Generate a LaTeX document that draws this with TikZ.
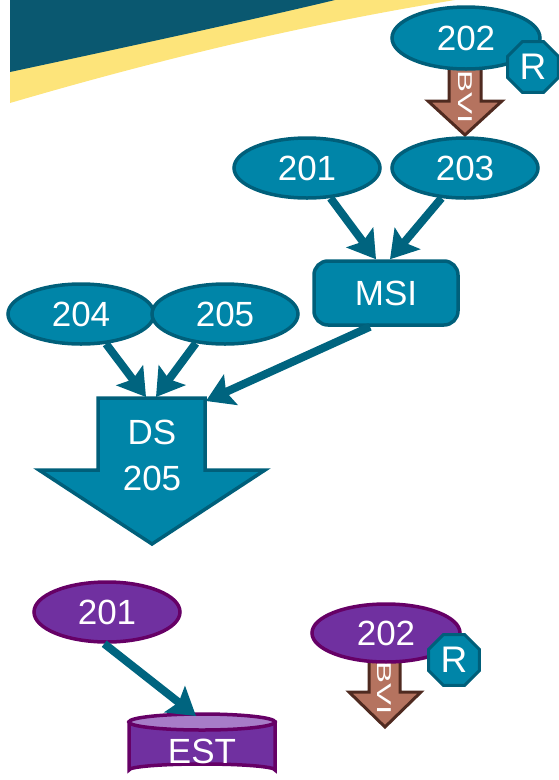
\documentclass[tikz,border=0pt]{standalone}
\usepackage{fontspec}
\setmainfont{Liberation Sans}
\usetikzlibrary{shapes.geometric,arrows.meta,calc}
\definecolor{tealfill}{HTML}{0085A8}
\definecolor{tealline}{HTML}{005F7A}
\definecolor{tealarrow}{HTML}{00647F}
\definecolor{purfill}{HTML}{7030A0}
\definecolor{purline}{HTML}{660066}
\definecolor{purtop}{HTML}{A77CC8}
\definecolor{brownfill}{HTML}{B5735F}
\definecolor{brownline}{HTML}{4F2A20}
\definecolor{bandteal}{HTML}{0A5870}
\definecolor{bandyellow}{HTML}{FDE47A}
\begin{document}
\begin{tikzpicture}[x=1pt,y=-1pt,
  ell/.style={ellipse, draw=tealline, fill=tealfill, line width=3.5pt,
    minimum width=146pt, minimum height=60pt, inner sep=0pt,
    text=white, font=\fontsize{35}{36}\selectfont},
  pell/.style={ell, draw=purline, fill=purfill},
  oct/.style={regular polygon, regular polygon sides=8, draw=tealline,
    fill=tealfill, line width=3pt, minimum size=55pt, inner sep=0pt,
    text=white, font=\fontsize{37}{38}\selectfont},
  boxnode/.style={rectangle, rounded corners=14pt, draw=tealline, fill=tealfill,
    line width=3.5pt, minimum width=144pt, minimum height=64pt,
    text=white, font=\fontsize{35}{36}\selectfont},
  conn/.style={draw=tealarrow, line width=8pt,
    -{Stealth[length=27pt,width=33pt,inset=5pt]}},
  bvi/.style={draw=brownline, fill=brownfill, line width=3pt, line join=miter},
  bvitext/.style={text=white, rotate=-90, inner sep=0pt,
    font=\fontsize{20}{20}\selectfont},
  bigarrow/.style={draw=tealline, fill=tealfill, line width=3.5pt, line join=miter}
]
\useasboundingbox (0,0) rectangle (558,780);
% background band
\fill[bandyellow] (10,0) -- (455,0) .. controls (300,25) and (150,62) .. (10,103) -- cycle;
\fill[bandteal] (10,0) -- (335,0) .. controls (260,18) and (150,42) .. (10,72) -- cycle;

% top BVI arrow
\path[bvi] (449,60) -- (481,60) -- (481,101) -- (502,101) -- (465,135) -- (428,101) -- (449,101) -- cycle;
\node[ell, minimum width=148pt, minimum height=62pt] (n202) at (466,38) {202};
\node[bvitext] (bvitop) at (465,97) {\scalebox{1.65}[1]{BVI}};
\node[oct] (r1) at (533,67) {R};

% second row
\node[ell] (n201) at (307,168) {201};
\node[ell] (n203) at (465,168) {203};
\node[boxnode] (msi) at (386,293) {MSI};

\node[ell] (n204) at (81,314) {204};
\node[ell] (n205) at (225,314) {205};

% DS arrow
\path[bigarrow] (98,398) -- (205,398) -- (205,470) -- (265,470) -- (152,544) -- (39,470) -- (98,470) -- cycle;
\node[text=white, align=center, font=\fontsize{35}{46}\selectfont] (ds) at (152,455) {DS\\205};
\coordinate (dstop) at (152,398);
\coordinate (dscorner) at (206,401);

\draw[conn] (n201.-52) -- ($(msi.north)+(-10,0)$);
\draw[conn] (n203.-128) -- ($(msi.north)+(4,0)$);
\draw[conn] (n204.-50) -- ($(dstop)+(-6,-1)$);
\draw[conn] (n205.-135) -- ($(dstop)+(4,-1)$);
\draw[conn] ($(msi.south)+(-16,0)$) -- (dscorner);

% bottom part
\node[pell] (p201) at (107,612) {201};

% EST cylinder
\path[draw=purline, fill=purfill, line width=3.5pt]
  (129,722) -- (129,770) arc[start angle=180, end angle=360, x radius=73, y radius=6]
  -- (275,722) -- cycle;
\path[draw=purline, fill=purtop, line width=3.5pt] (202,722) ellipse[x radius=73, y radius=8];
\node[text=white, font=\fontsize{35}{36}\selectfont] (est) at (202,751) {EST};
\coordinate (esttop) at (196,716);
\draw[conn] (p201.-95) -- (esttop);

\path[bvi] (369,650) -- (400,650) -- (400,692) -- (421,692) -- (385,727) -- (349,692) -- (369,692) -- cycle;
\node[pell, minimum width=148pt, minimum height=58pt] (p202) at (386,633) {202};
\node[bvitext] (bvibot) at (384,688) {\scalebox{1.65}[1]{BVI}};
\node[oct] (r2) at (454,660) {R};
\end{tikzpicture}
\end{document}
